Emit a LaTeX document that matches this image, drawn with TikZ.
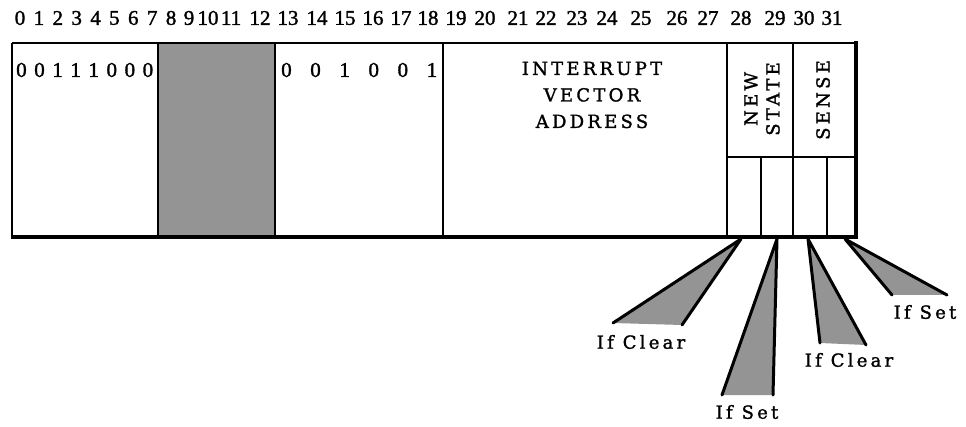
\documentclass[tikz,border=0pt]{standalone}
\usepackage{fontspec}
\setmainfont{DejaVu Serif}
\newfontfamily\spacedfont[LetterSpace=18,FakeBold=1.5]{DejaVu Serif}
\newfontfamily\digitfont[FakeBold=1.5]{Liberation Serif}
\begin{document}
\begin{tikzpicture}[x=1pt,y=-1pt,
  num/.style={font=\fontsize{21}{22}\selectfont\digitfont, inner sep=0pt},
  lbl/.style={font=\fontsize{18}{22}\selectfont\spacedfont, inner sep=0pt},
  divider/.style={line width=2pt},
  shadefill/.style={fill=black!42},
  wedgeline/.style={line width=3pt, line join=round, line cap=round}]
\useasboundingbox (0,0) rectangle (966,427);

% shaded field bits 8-12
\fill[shadefill] (158,43) rectangle (275,237);

% outer frame
\draw[line width=1.5pt] (12,43) -- (856,43);
\draw[line width=2.5pt] (12,43) -- (12,237);
\draw[line width=4pt] (856,41.5) -- (856,239);
\draw[line width=4pt] (10.75,237) -- (858,237);

% field dividers
\foreach \x in {158,275,443,727,793}
  \draw[divider] (\x,43) -- (\x,237);
\draw[divider] (727,157) -- (856,157);
\draw[divider] (761,157) -- (761,237);
\draw[divider] (827,157) -- (827,237);

% bit numbers
\foreach \n/\x in {0/20,1/38.9,2/57.8,3/76.7,4/95.6,5/114.4,6/133.3,7/152.2,8/171.1,9/189,
  10/208,11/231,12/260,13/288,14/317,15/345,16/373,17/401,18/428,19/456,
  20/485,21/518,22/546,23/577,24/607,25/641,26/677,27/708,28/741,29/775,30/804,31/832}
  \node[num] (bit\n) at (\x,18) {\n};

% field contents
\node[num, anchor=west] (opcode) at (16,70) {\makebox[137pt][s]{0 0 1 1 1 0 0 0}};
\node[num, anchor=west] (ext) at (281,70) {\makebox[156pt][s]{0 0 1 0 0 1}};
\node[lbl, align=center, font=\fontsize{18}{26.5}\selectfont\spacedfont] (iva) at (592,95)
  {INTERRUPT\\VECTOR\\ADDRESS};
\node[lbl, rotate=90, align=center] (ns) at (762,99) {NEW\\STATE};
\node[lbl, rotate=90] (sense) at (823,100) {SENSE};

% wedges
\coordinate (a1) at (741,239);
\coordinate (l1) at (613,323);
\coordinate (r1) at (682,325);
\coordinate (a2) at (777,239);
\coordinate (l2) at (722,395);
\coordinate (r2) at (773,395);
\coordinate (a3) at (808,239);
\coordinate (l3) at (820,343);
\coordinate (r3) at (866,345);
\coordinate (a4) at (845,239);
\coordinate (l4) at (892,295);
\coordinate (r4) at (947,295);
\foreach \i in {1,2,3,4}{
  \fill[shadefill] (a\i) -- (l\i) -- (r\i) -- cycle;
  \draw[wedgeline] (l\i) -- (a\i) -- (r\i);
}

% wedge labels
\node[lbl] (clear1) at (641,342) {If Clear};
\node[lbl] (set1) at (747,412) {If Set};
\node[lbl] (clear2) at (849,360) {If Clear};
\node[lbl] (set2) at (925,312) {If Set};
\end{tikzpicture}
\end{document}
